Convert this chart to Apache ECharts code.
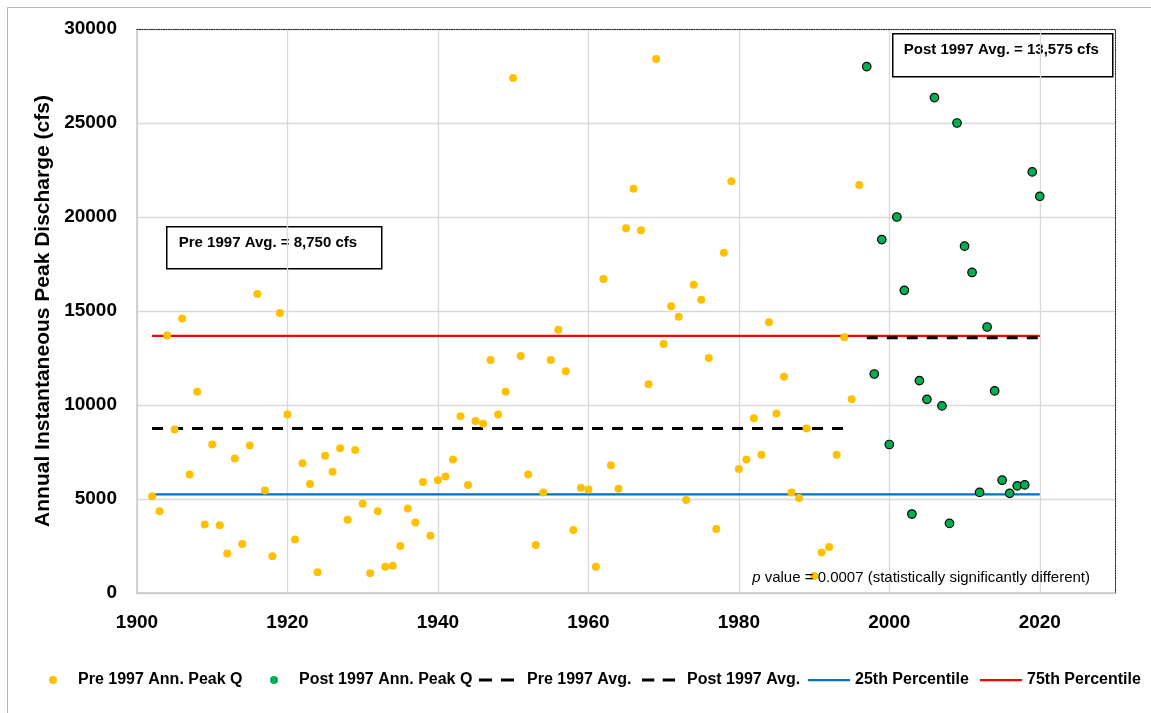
<!DOCTYPE html>
<html>
<head>
<meta charset="utf-8">
<script src="https://cdn.jsdelivr.net/npm/echarts@6/dist/echarts.min.js"></script>
<style>
html,body{margin:0;padding:0;background:#fff;}
#chart{width:1151px;height:713px;}
</style>
</head>
<body>
<div id="chart"></div>
<script>
// ---- Data ----
const preYears = [1902,1903,1904,1905,1906,1907,1908,1909,1910,1911,1912,1913,1914,1915,1916,1917,1918,1919,1920,
  1921,1922,1923,1924,1925,1926,1927,1928,1929,1930,1931,1932,1933,1934,1935,1936,1937,1938,1939,1940,
  1941,1942,1943,1944,1945,1946,1947,1948,1949,1950,1951,1952,1953,1954,1955,1956,1957,1958,1959,1960,
  1961,1962,1963,1964,1965,1966,1967,1968,1969,1970,1971,1972,1973,1974,1975,1976,1977,1978,1979,1980,
  1981,1982,1983,1984,1985,1986,1987,1988,1989,1990,1991,1992,1993,1994,1995,1996];
const preQ = [5150,4350,13700,8700,14600,6300,10700,3650,7900,3600,2100,7150,2600,7850,15900,5450,1950,14900,9500,
  2850,6900,5800,1100,7300,6450,7700,3900,7600,4750,1050,4350,1400,1450,2500,4500,3750,5900,3050,6000,
  6200,7100,9400,5750,9150,9000,12400,9500,10700,27400,12600,6300,2550,5350,12400,14000,11800,3350,5600,5500,
  1400,16700,6800,5550,19400,21500,19300,11100,28400,13250,15250,14700,4950,16400,15600,12500,3400,18100,21900,6600,
  7100,9300,7350,14400,9550,11500,5350,5050,8750,900,2150,2450,7350,13600,10300,21700];
const postYears = [1997,1998,1999,2000,2001,2002,2003,2004,2005,2006,2007,2008,2009,2010,2011,2012,2013,2014,2015,2016,2017,2018,2019,2020];
const postQ = [28000,11650,18800,7900,20000,16100,4200,11300,10300,26350,9950,3700,25000,18450,17050,5350,14150,10750,6000,5300,5700,5750,22400,21100];

const preAvg = 8750, postAvg = 13575, p25 = 5250, p75 = 13675;
const preAvgSpan = [1902, 1995];
const postAvgSpan = [1997, 2020];
const pctSpan = [1902, 2020];

const xTicks = {min: 1900, max: 2030, interval: 20};
const yTicks = {min: 0, max: 30000, interval: 5000};

const seriesNames = ['Pre 1997 Ann. Peak Q','Post 1997 Ann. Peak Q','Pre 1997 Avg.','Post 1997 Avg.','25th Percentile','75th Percentile'];
const preBoxText = 'Pre 1997 Avg. = 8,750 cfs';
const postBoxText = 'Post 1997 Avg. = 13,575 cfs';
const pValueText = '{i|p} value = 0.0007 (statistically significantly different)';
const yTitle = 'Annual Instantaneous Peak Discharge (cfs)';

// ---- Chart ----
const FONT = '"Liberation Sans", Arial, sans-serif';
const chart = echarts.init(document.getElementById('chart'), null, {renderer: 'canvas'});

function hline(span, v){ return [[span[0], v],[span[1], v]]; }

const legendText = {color: '#000', fontFamily: FONT, fontWeight: 'bold', fontSize: 16};
const DASH_ICON = 'path://M0,0H13V3H0Z M22,0H35V3H22Z';
const SOLID_ICON = 'path://M0,0H42V2.25H0Z';
function legendItem(name, left, w, icon, pad){
  return {
    left: left, top: 672, itemWidth: w, itemHeight: 8, itemGap: 0, padding: 0,
    symbolKeepAspect: true,
    itemStyle: {borderWidth: 0},
    textStyle: Object.assign({padding: [0, 0, 0, pad]}, legendText),
    data: [icon ? {name: name, icon: icon} : {name: name}]
  };
}

const option = {
  backgroundColor: '#ffffff',
  animation: false,
  grid: {left: 137, right: 36, top: 29, bottom: 120, containLabel: false},
  xAxis: [{
    type: 'value', min: xTicks.min, max: xTicks.max, interval: xTicks.interval,
    axisLine: {show: true, lineStyle: {color: '#c8c8c8', width: 1.5}},
    axisTick: {show: false},
    axisLabel: {show: true, showMaxLabel: false, margin: 20, color: '#000', fontFamily: FONT, fontWeight: 'bold', fontSize: 19,
      formatter: v => String(v)},
    splitLine: {show: true, lineStyle: {color: '#d9d9d9', width: 1.3}}
  },{
    type: 'value', position: 'top', min: xTicks.min, max: xTicks.max, interval: xTicks.interval,
    axisLine: {show: true, onZero: false, lineStyle: {color: '#222', width: 1, type: [1.2, 1.2]}},
    axisTick: {show: false}, axisLabel: {show: false}, splitLine: {show: false}
  }],
  yAxis: [{
    type: 'value', min: yTicks.min, max: yTicks.max, interval: yTicks.interval,
    name: yTitle, nameLocation: 'middle', nameGap: 73, nameRotate: 90,
    nameTextStyle: {color: '#000', fontFamily: FONT, fontWeight: 'bold', fontSize: 21},
    axisLine: {show: true, lineStyle: {color: '#c8c8c8', width: 1.5}},
    axisTick: {show: false},
    axisLabel: {show: true, margin: 20, color: '#000', fontFamily: FONT, fontWeight: 'bold', fontSize: 19,
      formatter: v => String(v)},
    splitLine: {show: true, lineStyle: {color: '#d9d9d9', width: 1.3}}
  },{
    type: 'value', position: 'right', min: yTicks.min, max: yTicks.max, interval: yTicks.interval,
    axisLine: {show: true, onZero: false, lineStyle: {color: '#222', width: 1, type: [1.2, 1.2]}},
    axisTick: {show: false}, axisLabel: {show: false}, splitLine: {show: false}
  }],
  legend: [
    legendItem(seriesNames[0], 49, 40, null, 0),
    legendItem(seriesNames[1], 270, 40, null, 0),
    legendItem(seriesNames[2], 479, 35, DASH_ICON, 8),
    legendItem(seriesNames[3], 642, 33, DASH_ICON, 7),
    legendItem(seriesNames[4], 808, 42, SOLID_ICON, 0),
    legendItem(seriesNames[5], 980, 42, SOLID_ICON, 0)
  ],
  series: [
    {name: seriesNames[0], type: 'scatter', z: 4, symbol: 'circle', symbolSize: 8,
     itemStyle: {color: '#FFC000', opacity: 1},
     data: preYears.map((y, i) => [y, preQ[i]])},
    {name: seriesNames[1], type: 'scatter', z: 5, symbol: 'circle', symbolSize: 8.5,
     itemStyle: {color: '#00B050', borderColor: '#000', borderWidth: 1.2, opacity: 1},
     data: postYears.map((y, i) => [y, postQ[i]])},
    {name: seriesNames[2], type: 'line', z: 3, symbol: 'none', silent: true,
     lineStyle: {color: '#000', width: 3, type: [11, 9]}, itemStyle: {color: '#000'},
     data: hline(preAvgSpan, preAvg)},
    {name: seriesNames[3], type: 'line', z: 3, symbol: 'none', silent: true,
     lineStyle: {color: '#000', width: 3, type: [11, 9]}, itemStyle: {color: '#000'},
     data: hline(postAvgSpan, postAvg)},
    {name: seriesNames[4], type: 'line', z: 2, symbol: 'none', silent: true,
     lineStyle: {color: '#0070C0', width: 2.25}, itemStyle: {color: '#0070C0'},
     data: hline(pctSpan, p25)},
    {name: seriesNames[5], type: 'line', z: 2, symbol: 'none', silent: true,
     lineStyle: {color: '#FF0000', width: 2.25}, itemStyle: {color: '#FF0000'},
     data: hline(pctSpan, p75)}
  ],
  graphic: [
    {type: 'rect', left: 5, top: 5, z: -1, silent: true,
     shape: {width: 1300, height: 900}, style: {fill: 'none', stroke: '#b4b4b4', lineWidth: 1}},
    {type: 'group', left: 166, top: 226, z: 10, children: [
      {type: 'rect', shape: {x: 0, y: 0, width: 215, height: 42}, style: {fill: '#fff', stroke: '#000', lineWidth: 1.5}},
      {type: 'text', x: 12, y: 16, style: {text: preBoxText, fill: '#000', font: 'bold 15px ' + FONT, verticalAlign: 'middle', align: 'left'}}
    ]},
    {type: 'group', left: 892, top: 33, z: 10, children: [
      {type: 'rect', shape: {x: 0, y: 0, width: 220, height: 43}, style: {fill: '#fff', stroke: '#000', lineWidth: 1.5}},
      {type: 'text', x: 11, y: 16, style: {text: postBoxText, fill: '#000', font: 'bold 15px ' + FONT, verticalAlign: 'middle', align: 'left'}}
    ]},
    {type: 'text', right: 61, top: 570, z: 10, style: {
      text: pValueText,
      fill: '#000', font: '15px ' + FONT,
      rich: {i: {fontStyle: 'italic', fontFamily: FONT, fontSize: 15, fill: '#000'}}
    }}
  ]
};
chart.setOption(option);
</script>
</body>
</html>
